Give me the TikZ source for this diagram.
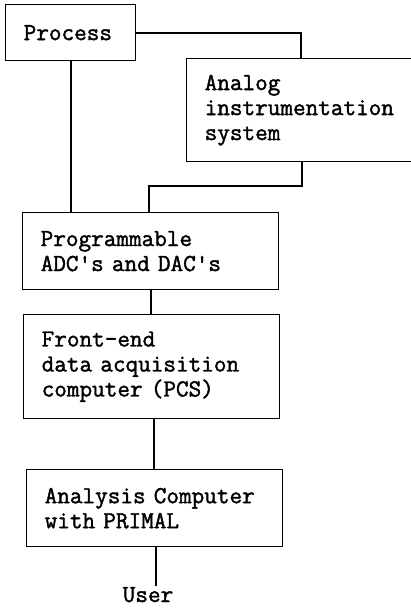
\documentclass[tikz,border=0pt]{standalone}
\usepackage{fontspec}
\setmonofont{Latin Modern Mono}[FakeBold=1.6]
\usetikzlibrary{calc}
\begin{document}
\begin{tikzpicture}[x=1pt,y=-1pt,
  box/.style={draw, line width=1.4pt, anchor=north west, inner xsep=18pt,
    inner ysep=0pt, align=left, font=\ttfamily\fontsize{24.5}{25}\selectfont},
  label text/.style={inner sep=1pt, font=\ttfamily\fontsize{24.5}{25}\selectfont},
  link/.style={line width=1.6pt}]
\useasboundingbox (0,0) rectangle (411,608);
\clip (0,0) rectangle (411,608);

% blocks of the acquisition chain
\node[box, text width=94pt,  minimum height=56pt]  (proc)   at (5,4)    {Process};
\node[box, text width=214pt, minimum height=103pt] (analog) at (186,58) {Analog\\instrumentation\\system};
\node[box, text width=220pt, minimum height=77pt]  (adc)    at (22,212) {Programmable\\ADC's and DAC's};
\node[box, text width=220pt, minimum height=104pt] (fe)     at (23,314) {Front-end\\data acquisition\\computer (PCS)};
\node[box, text width=220pt, minimum height=77pt]  (ana)    at (26,469) {Analysis Computer\\with PRIMAL};
\node[label text, anchor=base] (user) at (148,602) {User};

% connections
\coordinate (j) at (149,186);
\draw[link] (proc.east) -| ($(analog.north west)+(115,0)$);
\draw[link] (proc.south) -- (proc.south |- adc.north);
\draw[link] ($(analog.south west)+(116,0)$) |- (j) -- (j |- adc.north);
\draw[link] (adc.south) -- (adc.south |- fe.north);
\draw[link] ($(fe.south)+(2,0)$) -- ($(fe.south |- ana.north)+(2,0)$);
\draw[link] ($(ana.south)+(1,0)$) -- ($(ana.south |- user.north)+(1,0)$);
\end{tikzpicture}
\end{document}
